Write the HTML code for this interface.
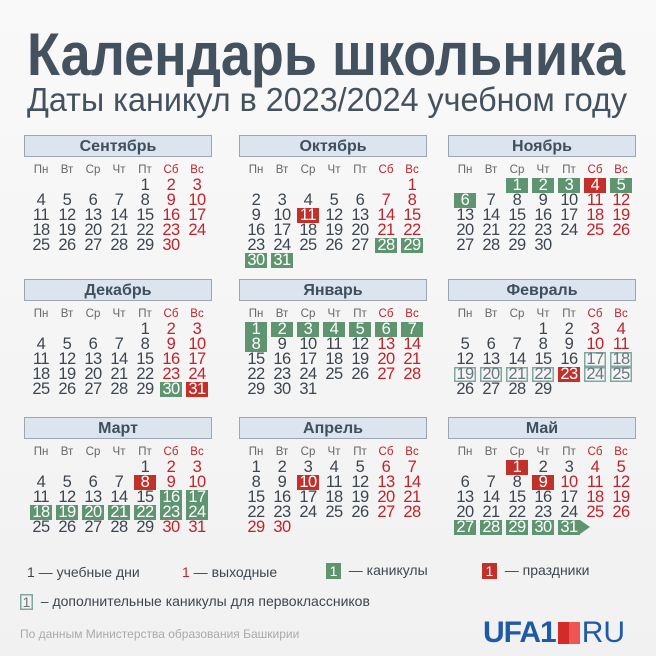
<!DOCTYPE html>
<html><head><meta charset="utf-8"><style>
body{margin:0;width:656px;height:656px;background:linear-gradient(#f9f9f9,#f1f1f1);font-family:"Liberation Sans",sans-serif;position:relative;overflow:hidden;color:#3d4650}
.m{position:absolute;width:188px}
.h{height:22px;background:#dce4ed;border:1px solid #9aa6b2;box-sizing:border-box;text-align:center;font-weight:bold;font-size:16px;line-height:21px;color:#3f4f5e}
.dn,.g7{display:grid;grid-template-columns:repeat(7,26px);margin-left:4px}
.dn{margin-top:6px;height:15px;font-size:11.5px;line-height:15px;color:#666}
.dn span,.g7 span{text-align:center}
.dn span:nth-child(n+6){color:#c0232b}
.g7{margin-top:0;font-size:16.5px;line-height:15px;grid-auto-rows:15px}
.g7 span{justify-self:center;width:22px;height:15px;letter-spacing:-0.5px}
.w{color:#c0232b}
.g{background:#5f9470;color:#fff}
.r{background:#c2302a;color:#fff}
.o{box-shadow:inset 0 0 0 1.5px #7fa8a0;color:#6b7780}
.lg{position:absolute;font-size:14px;color:#3d4650;white-space:nowrap}
.bx{display:inline-block;width:15px;height:16px;text-align:center;line-height:16px;color:#fff;font-size:14px;vertical-align:middle}
</style></head><body>
<svg style="position:absolute;left:0;top:0" width="656" height="125">
<text x="27" y="75" textLength="598" lengthAdjust="spacingAndGlyphs" font-family="Liberation Sans" font-weight="bold" font-size="60" fill="#44525f">Календарь школьника</text>
<text x="27" y="111" textLength="600" lengthAdjust="spacingAndGlyphs" font-family="Liberation Sans" font-size="33" fill="#44525f">Даты каникул в 2023/2024 учебном году</text>
</svg>

<div class="m" style="left:24px;top:135px"><div class="h">Сентябрь</div>
<div class="dn"><span>Пн</span><span>Вт</span><span>Ср</span><span>Чт</span><span>Пт</span><span>Сб</span><span>Вс</span></div>
<div class="g7"><span style="grid-column:5">1</span><span class="w">2</span><span class="w">3</span><span>4</span><span>5</span><span>6</span><span>7</span><span>8</span><span class="w">9</span><span class="w">10</span><span>11</span><span>12</span><span>13</span><span>14</span><span>15</span><span class="w">16</span><span class="w">17</span><span>18</span><span>19</span><span>20</span><span>21</span><span>22</span><span class="w">23</span><span class="w">24</span><span>25</span><span>26</span><span>27</span><span>28</span><span>29</span><span class="w">30</span></div></div>

<div class="m" style="left:239px;top:135px"><div class="h">Октябрь</div>
<div class="dn"><span>Пн</span><span>Вт</span><span>Ср</span><span>Чт</span><span>Пт</span><span>Сб</span><span>Вс</span></div>
<div class="g7"><span class="w" style="grid-column:7">1</span><span>2</span><span>3</span><span>4</span><span>5</span><span>6</span><span class="w">7</span><span class="w">8</span><span>9</span><span>10</span><span class="r">11</span><span>12</span><span>13</span><span class="w">14</span><span class="w">15</span><span>16</span><span>17</span><span>18</span><span>19</span><span>20</span><span class="w">21</span><span class="w">22</span><span>23</span><span>24</span><span>25</span><span>26</span><span>27</span><span class="g">28</span><span class="g">29</span><span class="g">30</span><span class="g">31</span></div></div>

<div class="m" style="left:448px;top:135px"><div class="h">Ноябрь</div>
<div class="dn"><span>Пн</span><span>Вт</span><span>Ср</span><span>Чт</span><span>Пт</span><span>Сб</span><span>Вс</span></div>
<div class="g7"><span class="g" style="grid-column:3">1</span><span class="g">2</span><span class="g">3</span><span class="r">4</span><span class="g">5</span><span class="g">6</span><span>7</span><span>8</span><span>9</span><span>10</span><span class="w">11</span><span class="w">12</span><span>13</span><span>14</span><span>15</span><span>16</span><span>17</span><span class="w">18</span><span class="w">19</span><span>20</span><span>21</span><span>22</span><span>23</span><span>24</span><span class="w">25</span><span class="w">26</span><span>27</span><span>28</span><span>29</span><span>30</span></div></div>

<div class="m" style="left:24px;top:279px"><div class="h">Декабрь</div>
<div class="dn"><span>Пн</span><span>Вт</span><span>Ср</span><span>Чт</span><span>Пт</span><span>Сб</span><span>Вс</span></div>
<div class="g7"><span style="grid-column:5">1</span><span class="w">2</span><span class="w">3</span><span>4</span><span>5</span><span>6</span><span>7</span><span>8</span><span class="w">9</span><span class="w">10</span><span>11</span><span>12</span><span>13</span><span>14</span><span>15</span><span class="w">16</span><span class="w">17</span><span>18</span><span>19</span><span>20</span><span>21</span><span>22</span><span class="w">23</span><span class="w">24</span><span>25</span><span>26</span><span>27</span><span>28</span><span>29</span><span class="g">30</span><span class="r">31</span></div></div>

<div class="m" style="left:239px;top:279px"><div class="h">Январь</div>
<div class="dn"><span>Пн</span><span>Вт</span><span>Ср</span><span>Чт</span><span>Пт</span><span>Сб</span><span>Вс</span></div>
<div class="g7"><span class="g">1</span><span class="g">2</span><span class="g">3</span><span class="g">4</span><span class="g">5</span><span class="g">6</span><span class="g">7</span><span class="g">8</span><span>9</span><span>10</span><span>11</span><span>12</span><span class="w">13</span><span class="w">14</span><span>15</span><span>16</span><span>17</span><span>18</span><span>19</span><span class="w">20</span><span class="w">21</span><span>22</span><span>23</span><span>24</span><span>25</span><span>26</span><span class="w">27</span><span class="w">28</span><span>29</span><span>30</span><span>31</span></div></div>

<div class="m" style="left:448px;top:279px"><div class="h">Февраль</div>
<div class="dn"><span>Пн</span><span>Вт</span><span>Ср</span><span>Чт</span><span>Пт</span><span>Сб</span><span>Вс</span></div>
<div class="g7"><span style="grid-column:4">1</span><span>2</span><span class="w">3</span><span class="w">4</span><span>5</span><span>6</span><span>7</span><span>8</span><span>9</span><span class="w">10</span><span class="w">11</span><span>12</span><span>13</span><span>14</span><span>15</span><span>16</span><span class="o">17</span><span class="o">18</span><span class="o">19</span><span class="o">20</span><span class="o">21</span><span class="o">22</span><span class="r">23</span><span class="o">24</span><span class="o">25</span><span>26</span><span>27</span><span>28</span><span>29</span></div></div>

<div class="m" style="left:24px;top:417px"><div class="h">Март</div>
<div class="dn"><span>Пн</span><span>Вт</span><span>Ср</span><span>Чт</span><span>Пт</span><span>Сб</span><span>Вс</span></div>
<div class="g7"><span style="grid-column:5">1</span><span class="w">2</span><span class="w">3</span><span>4</span><span>5</span><span>6</span><span>7</span><span class="r">8</span><span class="w">9</span><span class="w">10</span><span>11</span><span>12</span><span>13</span><span>14</span><span>15</span><span class="g">16</span><span class="g">17</span><span class="g">18</span><span class="g">19</span><span class="g">20</span><span class="g">21</span><span class="g">22</span><span class="g">23</span><span class="g">24</span><span>25</span><span>26</span><span>27</span><span>28</span><span>29</span><span class="w">30</span><span class="w">31</span></div></div>

<div class="m" style="left:239px;top:417px"><div class="h">Апрель</div>
<div class="dn"><span>Пн</span><span>Вт</span><span>Ср</span><span>Чт</span><span>Пт</span><span>Сб</span><span>Вс</span></div>
<div class="g7"><span>1</span><span>2</span><span>3</span><span>4</span><span>5</span><span class="w">6</span><span class="w">7</span><span>8</span><span>9</span><span class="r">10</span><span>11</span><span>12</span><span class="w">13</span><span class="w">14</span><span>15</span><span>16</span><span>17</span><span>18</span><span>19</span><span class="w">20</span><span class="w">21</span><span>22</span><span>23</span><span>24</span><span>25</span><span>26</span><span class="w">27</span><span class="w">28</span><span class="w">29</span><span class="w">30</span></div></div>

<div class="m" style="left:448px;top:417px"><div class="h">Май</div>
<div class="dn"><span>Пн</span><span>Вт</span><span>Ср</span><span>Чт</span><span>Пт</span><span>Сб</span><span>Вс</span></div>
<div class="g7"><span class="r" style="grid-column:3">1</span><span>2</span><span>3</span><span class="w">4</span><span class="w">5</span><span>6</span><span>7</span><span>8</span><span class="r">9</span><span class="w">10</span><span class="w">11</span><span class="w">12</span><span>13</span><span>14</span><span>15</span><span>16</span><span>17</span><span class="w">18</span><span class="w">19</span><span>20</span><span>21</span><span>22</span><span>23</span><span>24</span><span class="w">25</span><span class="w">26</span><span class="g">27</span><span class="g">28</span><span class="g">29</span><span class="g">30</span><span class="g" style="position:relative">31<i style="position:absolute;left:22px;top:0;border-left:10px solid #5f9470;border-top:7.5px solid transparent;border-bottom:7.5px solid transparent"></i></span></div></div>

<div class="lg" style="left:27px;top:564px">1 — учебные дни</div>
<div class="lg" style="left:182px;top:564px"><span style="color:#c0232b">1</span> — выходные</div>
<div class="lg" style="left:326px;top:562px"><span class="bx" style="background:#5f9470">1</span>&nbsp; — каникулы</div>
<div class="lg" style="left:482px;top:562px"><span class="bx" style="background:#c2302a">1</span>&nbsp; — праздники</div>
<div class="lg" style="left:20px;top:593px"><span class="bx" style="box-shadow:inset 0 0 0 1.5px #7fa8a0;color:#6b7780;width:13px">1</span>&nbsp; – дополнительные каникулы для первоклассников</div>
<div class="lg" style="left:20px;top:627px;font-size:12px;color:#aaa">По данным Министерства образования Башкирии</div>
<div style="position:absolute;left:483px;top:617px;height:32px;white-space:nowrap;color:#1f5aa6;font-size:30px;line-height:32px">
<span style="font-weight:900;letter-spacing:-1px">UFA1</span><span style="display:inline-block;width:22px;height:22px;vertical-align:-2px;margin:0 2px;background:linear-gradient(90deg,#d32a2a 50%,#e55 50%)"></span><span>RU</span></div>
</body></html>
